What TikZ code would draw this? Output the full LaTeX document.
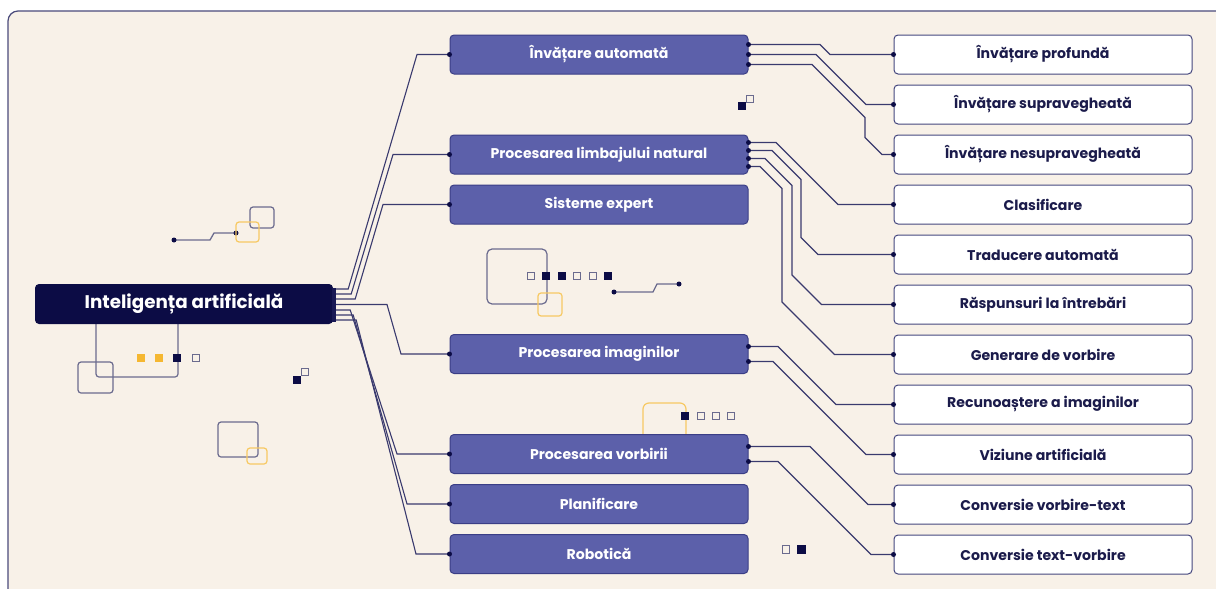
\documentclass[tikz,border=0pt]{standalone}
\usepackage{fontspec}
\setmainfont{Poppins}
\usetikzlibrary{calc}
\definecolor{panel}{HTML}{F8F1E8}
\definecolor{panelb}{HTML}{4B4B7B}
\definecolor{navy}{HTML}{0C0C45}
\definecolor{purp}{HTML}{5C60AA}
\definecolor{purpb}{HTML}{3B3E86}
\definecolor{wirec}{HTML}{3A3A6E}
\definecolor{boxb}{HTML}{45477E}
\definecolor{txtn}{HTML}{1B1B4B}
\definecolor{grayd}{HTML}{6B6B8E}
\definecolor{yel}{HTML}{F5B731}
\definecolor{yell}{HTML}{F7C963}
\tikzset{
  rootbox/.style={rectangle, rounded corners=4pt, fill=navy, draw=none, minimum width=298pt, minimum height=40pt, inner sep=0pt, text=white, font=\bfseries\fontsize{18.3}{22}\selectfont},
  midbox/.style={rectangle, rounded corners=4pt, fill=purp, draw=purpb, line width=1pt, minimum width=298pt, minimum height=39pt, inner sep=0pt, text=white, font=\bfseries\fontsize{14.1}{17}\selectfont},
  leafbox/.style={rectangle, rounded corners=4pt, fill=white, draw=boxb, line width=1pt, minimum width=298pt, minimum height=39pt, inner sep=0pt, text=txtn, font=\bfseries\fontsize{14.1}{17}\selectfont},
  wire/.style={draw=wirec, line width=1.1pt},
  jdot/.style={circle, fill=navy, inner sep=0pt, minimum size=5pt},
  decoout/.style={draw=grayd, line width=1.2pt, rounded corners=3pt},
  yelout/.style={draw=yell, line width=1.2pt, rounded corners=3pt},
  sqfill/.style={fill=navy},
  sqout/.style={draw=grayd, line width=1.1pt},
  sqyel/.style={fill=yel},
}
\begin{document}
\begin{tikzpicture}[x=1pt,y=-1pt]
\useasboundingbox (0,0) rectangle (1216,589);
\fill[white] (0,0) rectangle (1216,589);
\begin{scope}
\clip (0,0) rectangle (1216,589);
\draw[fill=panel, draw=panelb, line width=1.2pt, rounded corners=10pt] (8,11) rectangle (1240,610);
\end{scope}

% decorations
\draw[decoout] (78,362) rectangle (113,393);
\draw[decoout] (96,324) -- (96,377) -- (178,377) -- (178,324);
\fill[sqyel] (137,354) rectangle (145,362);
\fill[sqyel] (155,354) rectangle (163,362);
\fill[sqfill] (173,354) rectangle (181,362);
\draw[sqout] (192.5,354.5) rectangle (199.5,361.5);
\fill[sqfill] (293,376) rectangle (301,384);
\draw[sqout] (301.5,368.5) rectangle (308.5,375.5);
\draw[decoout] (218,422) rectangle (258,457);
\draw[yelout] (247,448) rectangle (267,464);
% top-left circuit
\coordinate (c1a) at (174,240);
\coordinate (c1b) at (236,233);
\draw[wire, line width=1.3pt, draw=grayd] (c1a) -- (210,240) -- (214,233) -- (c1b);
\fill[navy] (c1a) circle (2.5pt);
\fill[navy] (c1b) circle (2.5pt);
\draw[decoout] (250,207) rectangle (274,228);
\draw[yelout] (236,222) rectangle (259,242);
% middle deco
\draw[decoout, rounded corners=5pt] (487,249) rectangle (547,304);
\draw[yelout] (538,293) rectangle (562,316);
\draw[sqout] (527.5,272.5) rectangle (534.5,279.5);
\fill[sqfill] (542,272) rectangle (550,280);
\fill[sqfill] (558,272) rectangle (566,280);
\draw[sqout] (573.5,272.5) rectangle (580.5,279.5);
\draw[sqout] (589.5,272.5) rectangle (596.5,279.5);
\fill[sqfill] (604,272) rectangle (612,280);
\coordinate (c2a) at (614,292);
\coordinate (c2b) at (679,284);
\draw[wire, line width=1.3pt, draw=grayd] (c2a) -- (653,292) -- (657,284) -- (c2b);
\fill[navy] (c2a) circle (2.5pt);
\fill[navy] (c2b) circle (2.5pt);
% near top
\fill[sqfill] (738,102) rectangle (746,110);
\draw[sqout] (746.5,95.5) rectangle (753.5,102.5);
% above speech
\draw[yelout, rounded corners=6pt] (643,434) -- (643,403) -- (686,403) -- (686,434);
\fill[sqfill] (681,412) rectangle (689,420);
\draw[sqout] (697.5,412.5) rectangle (704.5,419.5);
\draw[sqout] (712.5,412.5) rectangle (719.5,419.5);
\draw[sqout] (727.5,412.5) rectangle (734.5,419.5);
% bottom
\draw[sqout] (782.5,545.5) rectangle (789.5,553.5);
\fill[sqfill] (797,545) rectangle (806,554);

% nodes
\node[rootbox] (root) at (184,304) {Inteligența artificială};
\node[midbox] (ia) at (599,54.5) {Învățare automată};
\node[midbox] (pln) at (599,154.5) {Procesarea limbajului natural};
\node[midbox] (se) at (599,204.5) {Sisteme expert};
\node[midbox] (pim) at (599,354) {Procesarea imaginilor};
\node[midbox] (pv) at (599,454) {Procesarea vorbirii};
\node[midbox] (pl) at (599,504) {Planificare};
\node[midbox] (rob) at (599,554) {Robotică};

\node[leafbox] (ip) at (1043,54.5) {Învățare profundă};
\node[leafbox] (isup) at (1043,104.5) {Învățare supravegheată};
\node[leafbox] (insup) at (1043,154.5) {Învățare nesupravegheată};
\node[leafbox] (cl) at (1043,204.5) {Clasificare};
\node[leafbox] (ta) at (1043,254.5) {Traducere automată};
\node[leafbox] (rasp) at (1043,304.5) {Răspunsuri la întrebări};
\node[leafbox] (gen) at (1043,354.5) {Generare de vorbire};
\node[leafbox] (rec) at (1043,404.5) {Recunoaștere a imaginilor};
\node[leafbox] (viz) at (1043,454.5) {Viziune artificială};
\node[leafbox] (cvt) at (1043,504.5) {Conversie vorbire-text};
\node[leafbox] (ctv) at (1043,554.5) {Conversie text-vorbire};

% root wires
\foreach \n/\o in {1/-15,2/-10,3/-5,4/0.5,5/6,6/11,7/16}{
  \coordinate (r\n) at ($(root.east)+(3,\o)$);
}
\draw[wire] (r1) -- ++(12,0) -- (417,54.5) -- (ia.west);
\draw[wire] (r2) -- ++(15,0) -- (393,154.5) -- (pln.west);
\draw[wire] (r3) -- ++(19,0) -- (383,204.5) -- (se.west);
\draw[wire] (r4) -- (387,304.5) -- (401,354) -- (pim.west);
\draw[wire] (r5) -- ++(14,0) -- (397,454) -- (pv.west);
\draw[wire] (r6) -- ++(17,0) -- (407,504) -- (pl.west);
\draw[wire] (r7) -- ++(20,0) -- (416,554) -- (rob.west);
\fill[navy!85!purp] ($(root.east)+(-1,-16)$) rectangle ($(root.east)+(3,18)$);

% right-side coordinates
\coordinate (ia1) at ($(ia.east)+(0,-10)$);
\coordinate (ia2) at ($(ia.east)+(0,0)$);
\coordinate (ia3) at ($(ia.east)+(0,10)$);
\coordinate (pln1) at ($(pln.east)+(0,-12)$);
\coordinate (pln2) at ($(pln.east)+(0,-4)$);
\coordinate (pln3) at ($(pln.east)+(0,4)$);
\coordinate (pln4) at ($(pln.east)+(0,12)$);
\coordinate (pim1) at ($(pim.east)+(0,-7.5)$);
\coordinate (pim2) at ($(pim.east)+(0,7.5)$);
\coordinate (pv1) at ($(pv.east)+(0,-7.5)$);
\coordinate (pv2) at ($(pv.east)+(0,7.5)$);

\draw[wire] (ia1) -- (820,44.5) -- (830,54.5) -- (ip.west);
\draw[wire] (ia2) -- (816,54.5) -- (866,104.5) -- (isup.west);
\draw[wire] (ia3) -- (812,64.5) -- (865,117.5) -- (865,137.5) -- (882,154.5) -- (insup.west);
\draw[wire] (pln1) -- (776,142.5) -- (838,204.5) -- (cl.west);
\draw[wire] (pln2) -- (772,150.5) -- (801,179.5) -- (801,237.5) -- (818,254.5) -- (ta.west);
\draw[wire] (pln3) -- (765,158.5) -- (792,185.5) -- (792,275) -- (821.5,304.5) -- (rasp.west);
\draw[wire] (pln4) -- (760,166.5) -- (782,188.5) -- (782,302) -- (834.5,354.5) -- (gen.west);
\draw[wire] (pim1) -- (778,346.5) -- (836,404.5) -- (rec.west);
\draw[wire] (pim2) -- (773,361.5) -- (866,454.5) -- (viz.west);
\draw[wire] (pv1) -- (810,446.5) -- (868,504.5) -- (cvt.west);
\draw[wire] (pv2) -- (778,461.5) -- (871,554.5) -- (ctv.west);

% junction dots
\foreach \c in {ia1,ia2,ia3,pln1,pln2,pln3,pln4,pim1,pim2,pv1,pv2}{
  \node[jdot] at (\c) {};
}
\foreach \c in {ia,pln,se,pim,pv,pl,rob,ip,isup,insup,cl,ta,rasp,gen,rec,viz,cvt,ctv}{
  \node[jdot] at (\c.west) {};
}
\end{tikzpicture}
\end{document}
